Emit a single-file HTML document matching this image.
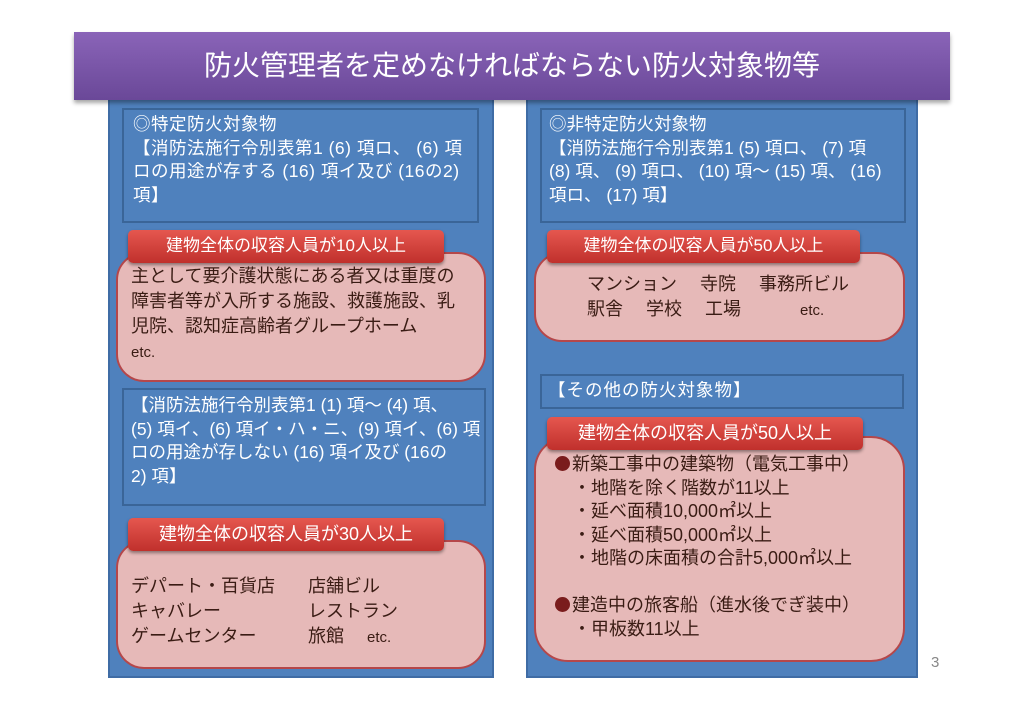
<!DOCTYPE html>
<html><head><meta charset="utf-8"><style>
*{margin:0;padding:0;box-sizing:border-box}
body{width:1024px;height:722px;background:#fff;position:relative;overflow:hidden;font-family:"Liberation Sans","Noto Sans CJK JP",sans-serif}
.a{position:absolute}
.title{left:74px;top:32px;width:876px;height:68px;background:linear-gradient(#8a64b8,#6a4898);color:#fff;font-size:28px;text-align:center;line-height:68px;box-shadow:0 3px 4px rgba(0,0,0,.35);z-index:2}
.panel{background:#4f81bd;border:2px solid #3f6ca5}
.inner{background:#4f81bd;border:2px solid #3a6598}
.pink{background:#e6b9b8;border:2px solid #b5474a;border-radius:28px}
.lab{background:linear-gradient(#e5574f,#c0302c);color:#fff;font-size:17px;text-align:center;border-radius:5px;box-shadow:0 2px 3px rgba(0,0,0,.4);line-height:32px}
.t{position:absolute;font-size:17.5px;line-height:23.5px;white-space:nowrap}
.w{color:#fff;letter-spacing:1px}.d{color:#3a1c14;font-size:18px;line-height:25px}
.b{display:inline-block;width:15px;height:15px;border-radius:50%;background:#7a1c1c;margin-right:2px;vertical-align:-1px}
</style></head><body>
<div class="a title">防火管理者を定めなければならない防火対象物等</div>

<div class="a panel" style="left:108px;top:98px;width:386px;height:580px"></div>
<div class="a inner" style="left:122px;top:108px;width:357px;height:115px"></div>
<div class="t w" style="left:133px;top:113px;letter-spacing:0.5px">◎特定防火対象物<br>【消防法施行令別表第1 (6) 項ロ、 (6) 項<br>ロの用途が存する (16) 項イ及び (16の2)<br>項】</div>
<div class="a pink" style="left:116px;top:252px;width:370px;height:130px"></div>
<div class="a lab" style="left:128px;top:230px;width:316px;height:33px">建物全体の収容人員が10人以上</div>
<div class="t d" style="left:131px;top:264px">主として要介護状態にある者又は重度の<br>障害者等が入所する施設、救護施設、乳<br>児院、認知症高齢者グループホーム<br><span style="font-size:15px">etc.</span></div>

<div class="a inner" style="left:122px;top:388px;width:364px;height:118px"></div>
<div class="t w" style="left:131px;top:394px;letter-spacing:0">【消防法施行令別表第1 (1) 項～ (4) 項、<br>(5) 項イ、(6) 項イ・ハ・ニ、(9) 項イ、(6) 項<br>ロの用途が存しない (16) 項イ及び (16の<br>2) 項】</div>
<div class="a pink" style="left:116px;top:540px;width:370px;height:129px"></div>
<div class="a lab" style="left:128px;top:518px;width:316px;height:33px;font-size:18px">建物全体の収容人員が30人以上</div>
<div class="t d" style="left:131px;top:574px">デパート・百貨店<br>キャバレー<br>ゲームセンター</div>
<div class="t d" style="left:308px;top:574px">店舗ビル<br>レストラン<br>旅館　 <span style="font-size:15px">etc.</span></div>

<div class="a panel" style="left:526px;top:98px;width:392px;height:580px"></div>
<div class="a inner" style="left:540px;top:108px;width:366px;height:115px"></div>
<div class="t w" style="left:549px;top:113px;letter-spacing:0">◎非特定防火対象物<br>【消防法施行令別表第1 (5) 項ロ、 (7) 項<br>(8) 項、 (9) 項ロ、 (10) 項～ (15) 項、 (16)<br>項ロ、 (17) 項】</div>
<div class="a pink" style="left:534px;top:252px;width:371px;height:90px"></div>
<div class="a lab" style="left:547px;top:230px;width:313px;height:33px">建物全体の収容人員が50人以上</div>
<div class="t d" style="left:587px;top:272px">マンション　 寺院　 事務所ビル<br>駅舎　 学校　 工場　　　 <span style="font-size:15px">etc.</span></div>

<div class="a inner" style="left:540px;top:374px;width:364px;height:35px"></div>
<div class="t w" style="left:548px;top:379px">【その他の防火対象物】</div>
<div class="a pink" style="left:534px;top:436px;width:371px;height:226px;border-radius:34px"></div>
<div class="a lab" style="left:547px;top:417px;width:316px;height:33px;font-size:18px">建物全体の収容人員が50人以上</div>
<div class="t d" style="left:555px;top:453px;line-height:23.5px"><span class="b"></span>新築工事中の建築物（電気工事中）<br>　・地階を除く階数が11以上<br>　・延べ面積10,000㎡以上<br>　・延べ面積50,000㎡以上<br>　・地階の床面積の合計5,000㎡以上<br><br><span class="b"></span>建造中の旅客船（進水後でぎ装中）<br>　・甲板数11以上</div>

<div class="t" style="left:931px;top:651px;color:#888;font-size:15px">3</div>
</body></html>
